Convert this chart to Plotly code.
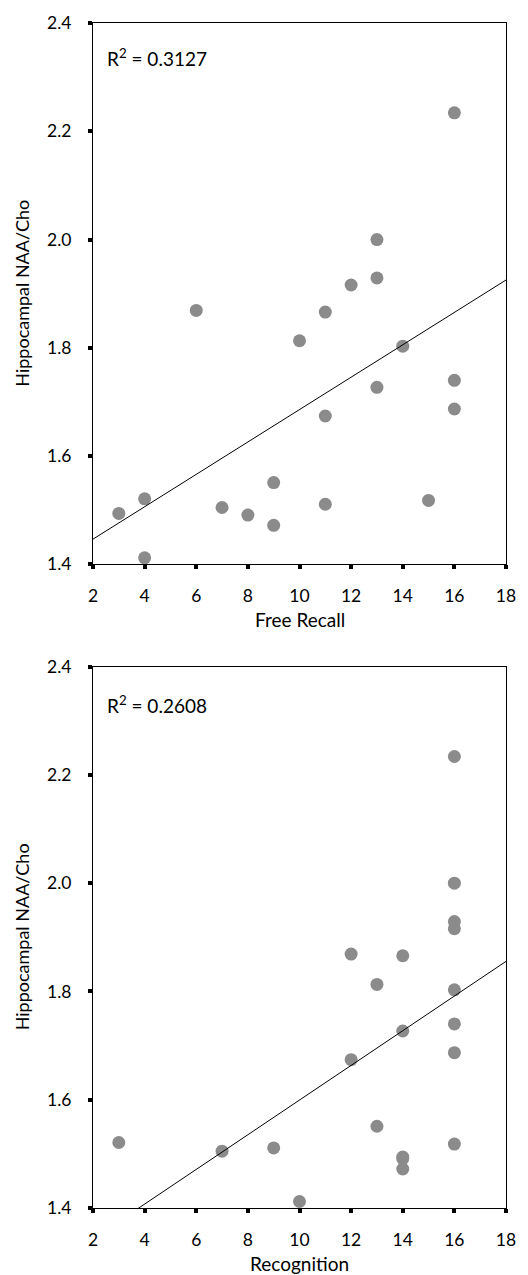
import numpy as np
import plotly.graph_objects as go

# Data
naa_cho = [2.234, 2.000, 1.929, 1.916, 1.869, 1.866, 1.813, 1.803, 1.740, 1.727, 1.687,
           1.674, 1.551, 1.521, 1.518, 1.511, 1.505, 1.494, 1.491, 1.472, 1.412]
free_recall = [16, 13, 13, 12, 6, 11, 10, 14, 16, 13, 16, 11, 9, 4, 15, 11, 7, 3, 8, 9, 4]
recognition = [16, 16, 16, 16, 12, 14, 13, 16, 16, 14, 16, 12, 13, 3, 16, 9, 7, 14, 14, 14, 10]

r2_labels = ["R<sup>2</sup> = 0.3127", "R<sup>2</sup> = 0.2608"]
x_titles = ["Free Recall", "Recognition"]
y_title = "Hippocampal NAA/Cho"
x_ticks = [2, 4, 6, 8, 10, 12, 14, 16, 18]
y_ticks = [1.4, 1.6, 1.8, 2.0, 2.2, 2.4]

FONT = "Lato"
W, H = 528, 1275
ML, MR, MT, MB = 93, 14, 15, 67
plot_h = H - MT - MB
panel_px = 545

fig = go.Figure()

xs_list = [free_recall, recognition]
for i, xs in enumerate(xs_list):
    ax = "" if i == 0 else "2"
    xa, ya = "x" + ax, "y" + ax
    fig.add_trace(go.Scatter(
        x=xs, y=naa_cho, mode="markers", xaxis=xa, yaxis=ya,
        marker=dict(size=13, color="#8b8b8b", line=dict(width=0)),
        showlegend=False, cliponaxis=False))
    slope, intercept = np.polyfit(np.array(xs, float), np.array(naa_cho), 1)
    lx = np.array([2.0, 18.0])
    fig.add_trace(go.Scatter(
        x=lx, y=intercept + slope * lx, mode="lines", xaxis=xa, yaxis=ya,
        line=dict(color="black", width=1), showlegend=False))

dom_top = [1 - panel_px / plot_h, 1.0]
dom_bot = [0.0, panel_px / plot_h]

axis_common = dict(
    showline=True, linecolor="black", linewidth=1, mirror=True,
    ticks="outside", ticklen=4, tickwidth=4, tickcolor="black",
    showgrid=False, zeroline=False,
    tickfont=dict(family=FONT, size=17.5, color="black"),
)

fig.update_layout(
    width=W, height=H,
    margin=dict(l=ML, r=MR, t=MT, b=MB),
    paper_bgcolor="white", plot_bgcolor="white",
    font=dict(family=FONT, color="black"),
    xaxis=dict(axis_common, range=[2, 18], tickvals=x_ticks, anchor="y",
               ticklabelstandoff=12),
    yaxis=dict(axis_common, range=[1.4, 2.4], tickvals=y_ticks,
               tickformat=".1f", domain=dom_top, anchor="x", ticklabelstandoff=13),
    xaxis2=dict(axis_common, range=[2, 18], tickvals=x_ticks, anchor="y2",
                ticklabelstandoff=12),
    yaxis2=dict(axis_common, range=[1.4, 2.4], tickvals=y_ticks,
                tickformat=".1f", domain=dom_bot, anchor="x2", ticklabelstandoff=13),
)

annotations = []
for i in range(2):
    ax = "" if i == 0 else "2"
    dom = dom_top if i == 0 else dom_bot
    annotations.append(dict(
        text=r2_labels[i], x=2.45, y=2.337 if i == 0 else 2.33,
        xref="x" + ax, yref="y" + ax, xanchor="left", yanchor="middle",
        showarrow=False, font=dict(family=FONT, size=19, color="black")))
    # x-axis title
    annotations.append(dict(
        text=x_titles[i], x=0.5, y=dom[0], xref="paper", yref="paper",
        xanchor="center", yanchor="middle", yshift=-55,
        showarrow=False, font=dict(family=FONT, size=19, color="black")))
    # y-axis title
    annotations.append(dict(
        text=y_title, x=0, y=(dom[0] + dom[1]) / 2, xref="paper", yref="paper",
        xanchor="center", yanchor="middle", xshift=-71, textangle=-90,
        showarrow=False, font=dict(family=FONT, size=18, color="black")))

fig.update_layout(annotations=annotations)
fig.write_html("out.html")
